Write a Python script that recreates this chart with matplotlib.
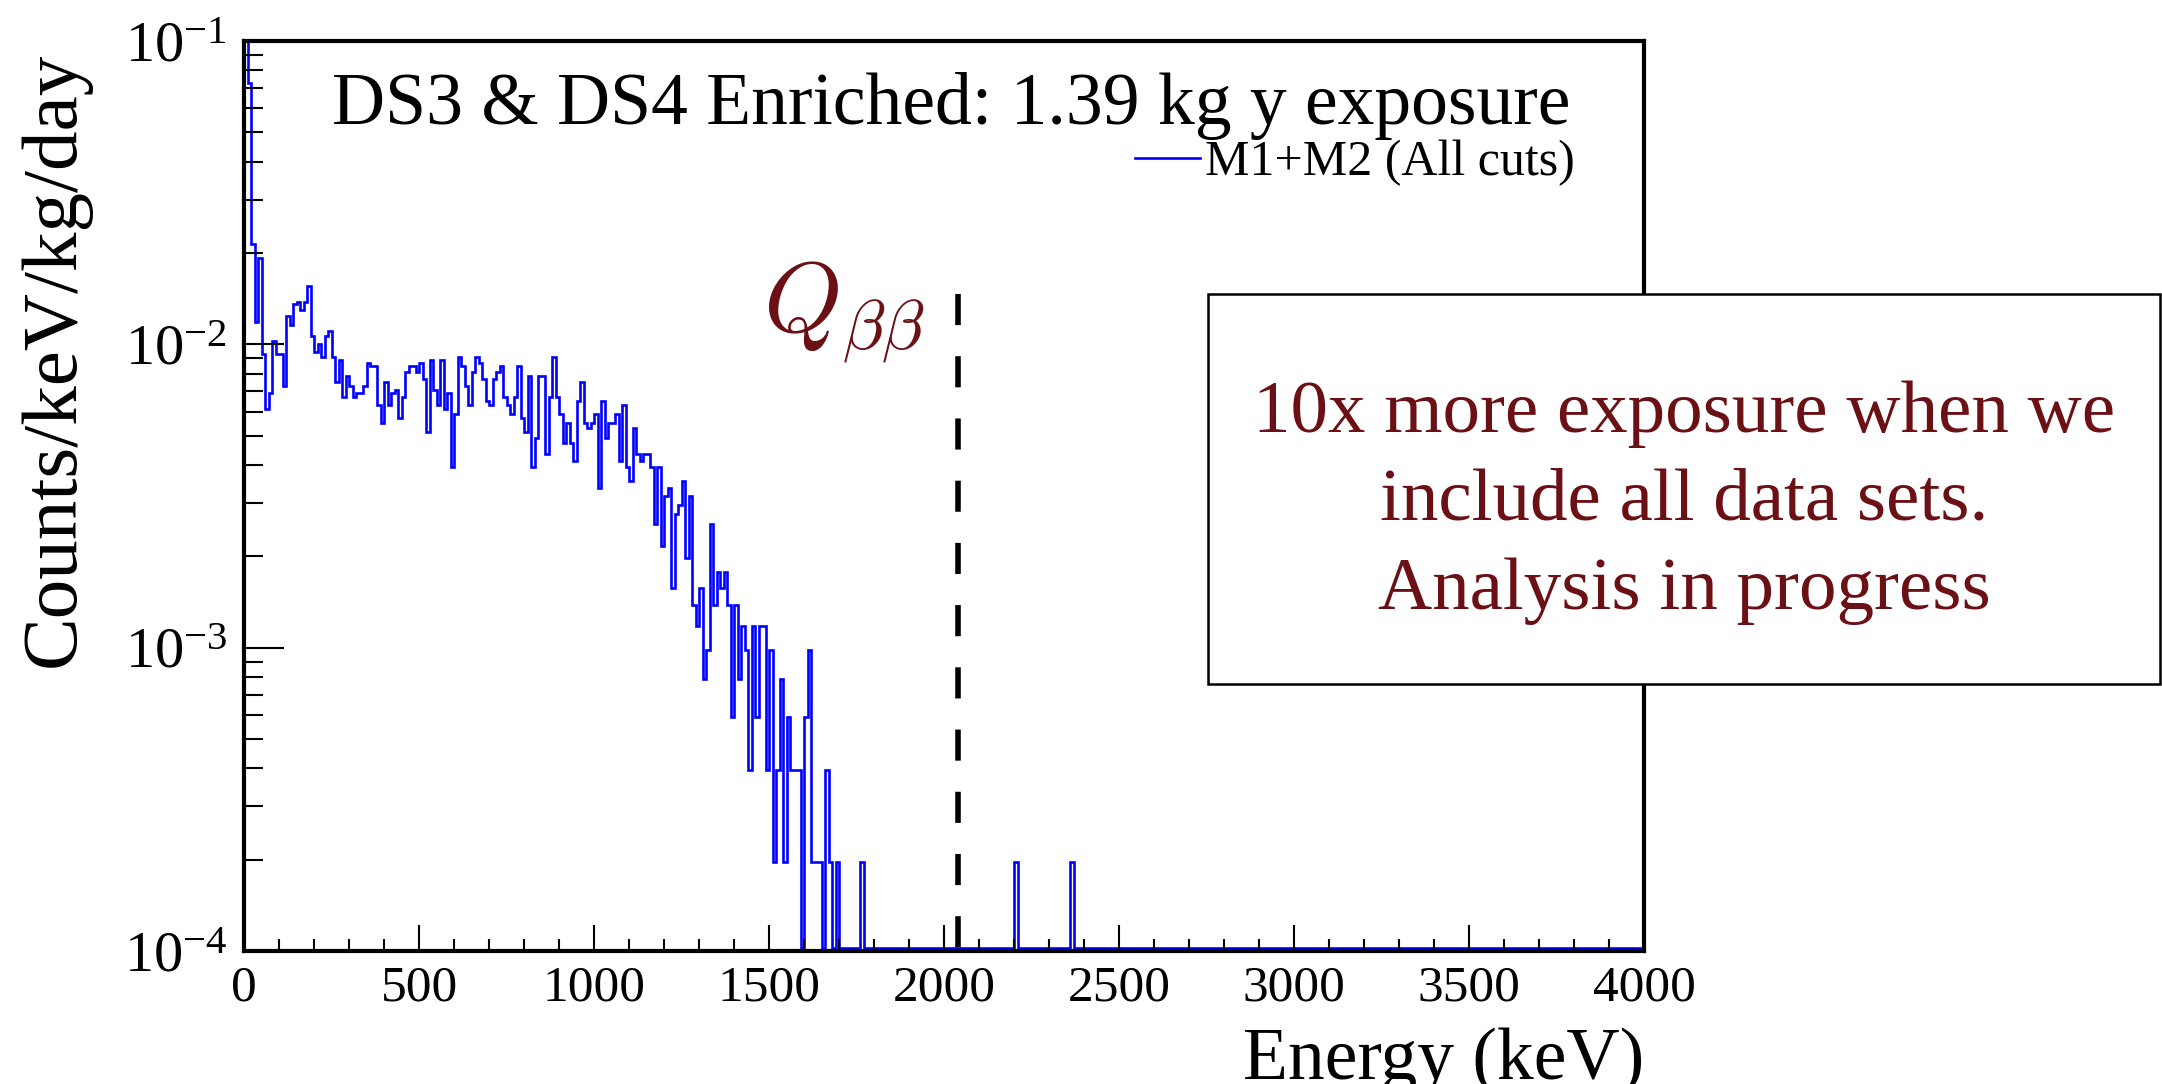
import numpy as np
import matplotlib.pyplot as plt
from matplotlib.lines import Line2D
from matplotlib.patches import Rectangle
from matplotlib.ticker import MultipleLocator, LogLocator, NullFormatter

plt.rcParams['font.family'] = ['Liberation Serif', 'DejaVu Serif']
plt.rcParams['mathtext.fontset'] = 'cm'

# spectrum settings
bin_width = 10.0          # keV
exposure_kg_y = 1.39      # kg y
e_max = 4000.0
q_bb = 2039.0             # keV

# counts per 10 keV bin, starting at 0 keV (bins 0 .. 176)
counts_low = [
    650, 368, 109, 60, 98, 47, 31, 35, 52, 47,
    47, 37, 63, 59, 69, 70, 66, 70, 79, 54,
    48, 51, 46, 54, 56, 46, 38, 45, 34, 40,
    37, 34, 35, 35, 37, 44, 43, 43, 32, 28,
    38, 32, 35, 36, 29, 34, 41, 43, 43, 41,
    44, 39, 26, 45, 36, 32, 45, 31, 35, 20,
    30, 46, 43, 37, 32, 41, 46, 44, 39, 33,
    32, 39, 41, 43, 34, 32, 30, 34, 43, 29,
    26, 40, 20, 25, 40, 40, 22, 34, 46, 34,
    30, 24, 28, 24, 21, 33, 38, 28, 27, 28,
    30, 17, 33, 25, 28, 28, 30, 21, 32, 20,
    18, 27, 22, 21, 22, 22, 20, 13, 20, 11,
    16, 17, 8, 14, 15, 18, 10, 16, 7, 6,
    8, 4, 5, 13, 7, 9, 8, 9, 7, 3,
    7, 4, 6, 5, 2, 6, 3, 6, 6, 2,
    5, 1, 2, 4, 1, 3, 2, 2, 2, 0,
    3, 5, 1, 1, 1, 0, 2, 1, 0, 1,
    0, 0, 0, 0, 0, 0, 1,
]
# isolated single events above the main spectrum (keV)
single_events = [2205.0, 2365.0]

dark_red = '#6b1014'
blue = '#0000ff'

edges = np.arange(0.0, e_max + bin_width, bin_width)
counts = np.zeros(len(edges) - 1)
counts[:len(counts_low)] = counts_low
for e in single_events:
    counts[int(e // bin_width)] += 1

rate = counts / (bin_width * exposure_kg_y * 365.25)   # counts/keV/kg/day
y_min, y_max = 1e-4, 1e-1
shown = np.where(counts > 0, rate, y_min * 1.02)

fig = plt.figure(figsize=(21.62, 10.84), dpi=100)
ax = fig.add_axes([244 / 2162, 1 - 951 / 1084, 1400 / 2162, 910 / 1084])

ax.stairs(shown, edges, baseline=y_min, color=blue, lw=1.9)

ax.set_yscale('log')
ax.set_xlim(0, e_max)
ax.set_ylim(y_min, y_max)

# Q-value marker
ax.plot([q_bb, q_bb], [0.0147, y_min], color='black', lw=4,
        dashes=(5.6, 5.6), solid_capstyle='butt', dash_capstyle='butt')
ax.text(1945, 0.0109, r'$Q_{\beta\beta}$', color=dark_red, fontsize=72,
        ha='right', va='baseline')

# axes styling
for sp in ax.spines.values():
    sp.set_linewidth(3)
ax.xaxis.set_major_locator(MultipleLocator(500))
ax.xaxis.set_minor_locator(MultipleLocator(100))
ax.yaxis.set_major_locator(LogLocator(base=10))
ax.yaxis.set_minor_locator(LogLocator(base=10, subs=np.arange(2, 10)))
ax.yaxis.set_minor_formatter(NullFormatter())
ax.tick_params(which='both', direction='in', top=False, right=False,
               width=1.5)
ax.tick_params(axis='x', which='major', length=19, pad=10, labelsize=37)
ax.tick_params(axis='x', which='minor', length=9)
ax.tick_params(axis='y', which='major', length=29, pad=12, labelsize=42)
ax.tick_params(axis='y', which='minor', length=14)

# legend
proxy = Line2D([], [], color=blue, lw=1.9)
ax.legend([proxy], ['M1+M2 (All cuts)'], loc='center left',
          bbox_to_anchor=(1135 / 2162, 1 - 163 / 1084),
          bbox_transform=fig.transFigure, frameon=False, fontsize=36,
          handlelength=1.3, handletextpad=0.1, borderpad=0,
          borderaxespad=0)

# titles
fig.text(951 / 2162, 1 - 124 / 1084,
         'DS3 & DS4 Enriched: 1.39 kg y exposure',
         fontsize=53, ha='center', va='baseline')
fig.text(1644 / 2162, 1 - 1027 / 1084, 'Energy (keV)', fontsize=53,
         ha='right', va='top')
fig.text(55 / 2162, 1 - 52 / 1084, 'Counts/keV/kg/day', fontsize=57,
         rotation=90, ha='center', va='top')

# note box
fig.add_artist(Rectangle((1208 / 2162, 1 - 684 / 1084),
                         952 / 2162, 390 / 1084,
                         transform=fig.transFigure, facecolor='white',
                         edgecolor='black', lw=1.8))
note_lines = ['10x more exposure when we', 'include all data sets.',
              'Analysis in progress']
for line, y_base in zip(note_lines, [432, 520, 609]):
    fig.text(1684 / 2162, 1 - y_base / 1084, line, color=dark_red,
             fontsize=54, ha='center', va='baseline')

fig.savefig('out.png', dpi=100)
